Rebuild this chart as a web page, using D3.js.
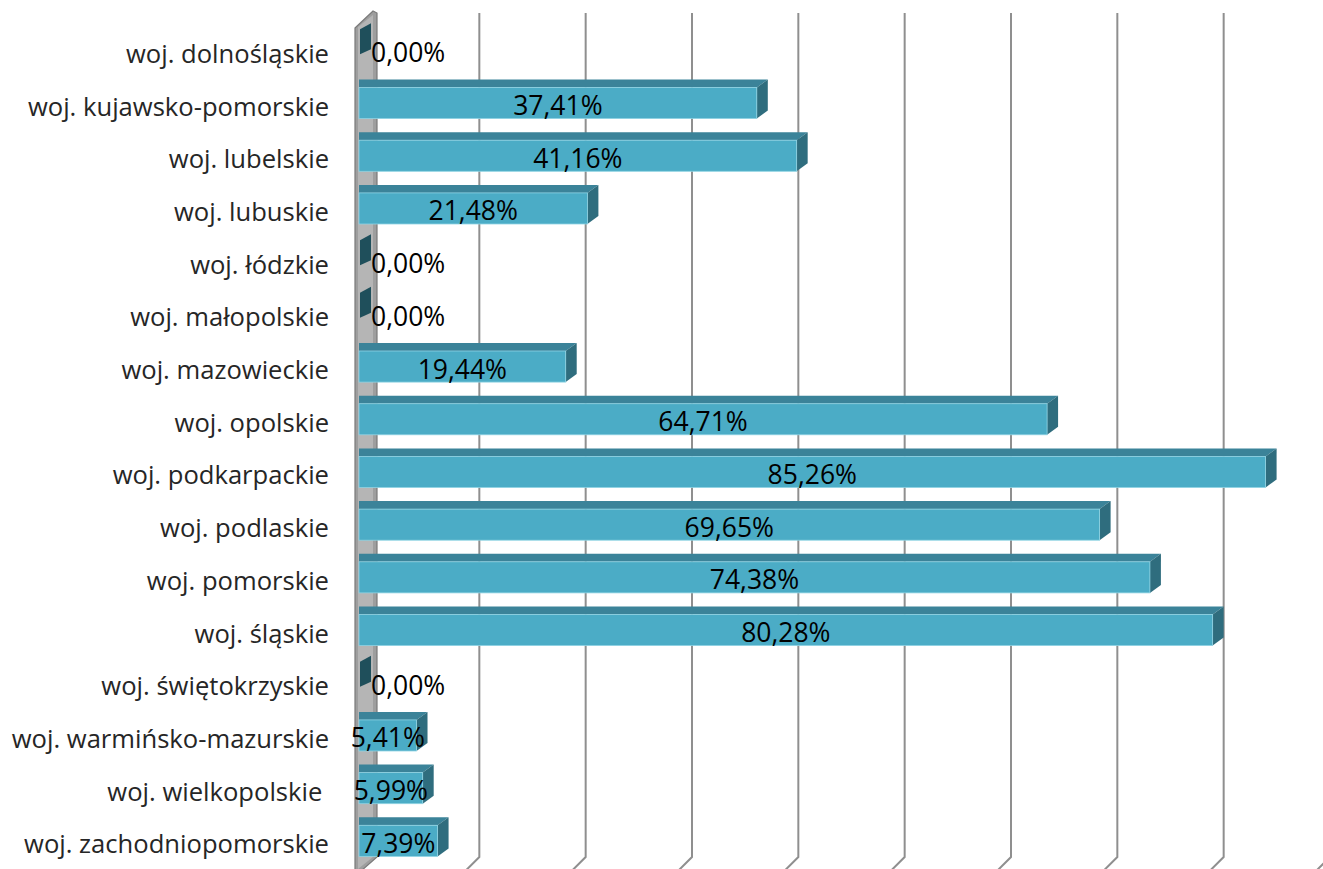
<!DOCTYPE html>
<html><head><meta charset="utf-8">
<script src="https://cdn.jsdelivr.net/npm/d3@7"></script>
<style>
html,body{margin:0;padding:0;background:#fff;}
svg{display:block;}
text{font-family:"Open Sans",sans-serif;white-space:pre;}
</style></head>
<body>
<svg id="chart" width="1323" height="869"></svg>
<script>
const categories = [
  "woj. dolnośląskie","woj. kujawsko-pomorskie","woj. lubelskie","woj. lubuskie",
  "woj. łódzkie","woj. małopolskie","woj. mazowieckie","woj. opolskie",
  "woj. podkarpackie","woj. podlaskie","woj. pomorskie","woj. śląskie",
  "woj. świętokrzyskie","woj. warmińsko-mazurskie","woj. wielkopolskie ","woj. zachodniopomorskie"
];
const values = [0.00, 37.41, 41.16, 21.48, 0.00, 0.00, 19.44, 64.71, 85.26, 69.65, 74.38, 80.28, 0.00, 5.41, 5.99, 7.39];
const gridTicks = [0,10,20,30,40,50,60,70,80,90];

const svg = d3.select("#chart");
const fmt = v => d3.format(".2f")(v).replace(".", ",") + "%";

// geometry
const depthX = 14, depthY = 14;      // full floor depth (gridlines / wall)
const barDX = 11, barDY = 8;         // bar depth
const x = d3.scaleLinear().domain([0, 90]).range([359, 359 + 957]);
const y = d3.scaleBand().domain(categories).range([24, 24 + 16 * 52.7]).paddingInner(0.41).paddingOuter(0.205);
const gridTop = 13, gridBottom = 857;

// gridlines (back plane + floor slant)
svg.append("g").selectAll("path").data(gridTicks.slice(1)).join("path")
  .attr("d", d => {
    const xb = x(d) + depthX;
    return `M${xb},${gridTop}L${xb},${gridBottom}L${xb - depthX},${gridBottom + depthY}`;
  })
  .attr("fill", "none").attr("stroke", "#8f8f8f").attr("stroke-width", 2);

// left side wall
const wx = x(0);
svg.append("path")
  .attr("d", `M${wx-4},${gridTop+15}L${wx+14},${gridTop-2}L${wx+18},${gridTop}L${wx+18},${gridBottom}L${wx+2},${gridBottom+depthY}L${wx-4},${gridBottom+depthY}Z`)
  .attr("fill", "#9e9e9e").attr("stroke", "#7a7a7a").attr("stroke-width", 1.2);
svg.append("path")
  .attr("d", `M${wx-1},${gridTop+14}L${wx+14},${gridTop+2}L${wx+14},${gridBottom}L${wx-1},${gridBottom+12}Z`)
  .attr("fill", "#b5b5b5");

// bars
const bars = svg.append("g");
categories.forEach((c, i) => {
  const v = values[i];
  const y0 = y(c), h = y.bandwidth(), x0 = x(0), x1 = x(v);
  const g = bars.append("g");
  if (v <= 0) {
    g.append("path")
      .attr("d", `M${x0+1},${y0+h/2-21}L${x0+barDX+1},${y0+h/2-27}L${x0+barDX+1},${y0+h/2-1}L${x0+1},${y0+h/2+4}Z`)
      .attr("fill", "#1f4f5b");
    return;
  }
  // top face
  g.append("path")
    .attr("d", `M${x0},${y0}L${x1},${y0}L${x1+barDX},${y0-barDY}L${x0},${y0-barDY}Z`)
    .attr("fill", "#3b8399");
  // side face
  g.append("path")
    .attr("d", `M${x1},${y0}L${x1+barDX},${y0-barDY}L${x1+barDX},${y0+h-barDY}L${x1},${y0+h}Z`)
    .attr("fill", "#2f6d7e");
  // front face
  g.append("rect")
    .attr("x", x0).attr("y", y0).attr("width", x1 - x0).attr("height", h)
    .attr("fill", "#4bacc6").attr("stroke", "#8fd3e3").attr("stroke-width", 0.8);
});

// value labels
svg.append("g").selectAll("text").data(categories).join("text")
  .attr("x", (c, i) => values[i] > 0 ? (x(0) + x(values[i])) / 2 : x(0) + 12)
  .attr("text-anchor", (c, i) => values[i] > 0 ? "middle" : "start")
  .attr("y", c => y(c) + y.bandwidth() / 2 + 2)
  .attr("dominant-baseline", "central")
  .attr("font-size", 26.5).attr("fill", "#000")
  .text((c, i) => fmt(values[i]));

// category labels
svg.append("g").selectAll("text").data(categories).join("text")
  .attr("x", 329)
  .attr("text-anchor", "end")
  .attr("y", c => y(c) + y.bandwidth() / 2 + 3)
  .attr("dominant-baseline", "central")
  .attr("font-size", 25.6).attr("fill", "#262626")
  .text(c => c);
</script>
</body></html>
